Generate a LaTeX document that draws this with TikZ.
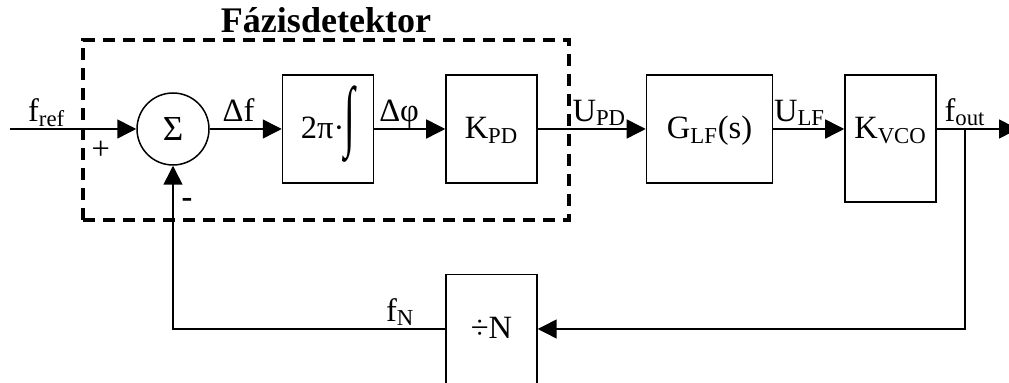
\documentclass[tikz,border=0pt]{standalone}
\usepackage{fontspec}
\setmainfont{Liberation Serif}
\usepackage{graphicx}
\usetikzlibrary{arrows.meta, positioning, calc, fit}
\newcommand{\blkfont}{\fontsize{18.5}{22}\selectfont}
\tikzset{
  % Signal block
  blk/.style={
    rectangle, draw=black, line width=0.85pt,
    minimum width=1.82cm, minimum height=2.16cm,
    inner sep=0pt, align=center, font=\blkfont,
    text height=0.6cm, text depth=0.2cm
  },
  % Summing junction
  sumcirc/.style={
    circle, draw=black, line width=0.85pt,
    minimum size=1.44cm, inner sep=0pt, font=\fontsize{20}{22}\selectfont
  },
  % Dashed group frame
  grp/.style={
    draw=black, line width=2.2pt, inner sep=0pt,
    dash pattern=on 0.24cm off 0.16cm
  },
  % Arrows
  arr/.style={-{Triangle[length=0.38cm,width=0.38cm]}, line width=0.85pt},
  wire/.style={line width=0.85pt},
  % Signal label
  sig/.style={font=\blkfont, inner sep=1.5pt, text depth=0.09cm},
}

\begin{document}
\begin{tikzpicture}
  \useasboundingbox (0,0) rectangle (20.18,-7.66);

  %% ---- FORWARD PATH ----
  \node[sumcirc] (sum) at (3.46,-2.58) {Σ};
  \node[blk, right=1.44cm of sum] (integ) {2π·\raisebox{-0.05cm}{\scalebox{1.2}[2.4]{∫}}};
  \node[blk, right=1.42cm of integ] (kpd) {K\textsubscript{PD}};
  \node[blk, minimum width=2.52cm, right=2.16cm of kpd] (lf) {G\textsubscript{LF}(s)};
  \node[blk, minimum height=2.54cm, text depth=0.6cm,
        right=1.42cm of lf.north east, anchor=north west] (vco) {K\textsubscript{VCO}};

  %% ---- FEEDBACK ----
  \node[blk, minimum height=2.18cm, below=1.8cm of kpd] (div) {÷N};

  \coordinate (in)  at (0.2,-2.58);
  \coordinate (br)  at (19.30,-2.58);
  \coordinate (out) at (20.36,-2.58);

  %% Arrows
  \draw[arr] (in) -- node[sig, above, pos=0.29]{f\textsubscript{ref}}
                     node[sig, below, pos=0.72, yshift=-5pt]{+} (sum);
  \draw[arr] (sum) -- node[sig, above, pos=0.4]{Δf} (integ);
  \draw[arr] (integ) -- node[sig, above, pos=0.35]{Δφ} (kpd);
  \draw[arr] (kpd) -- node[sig, above, pos=0.57]{U\textsubscript{PD}} (lf);
  \draw[arr] (lf) -- node[sig, above, pos=0.37]{U\textsubscript{LF}} (lf -| vco.west);
  \draw[wire] (vco.east |- br) -- (br) node[sig, above]{f\textsubscript{out}};
  \draw[arr] (br) -- (out);
  \draw[arr] (br) |- (div.east);
  \draw[arr] (div.west) -| node[sig, above left, pos=0.07, xshift=6pt]{f\textsubscript{N}}
                           node[sig, right, pos=0.88, xshift=3pt]{\textbf{-}} (sum.south);

  %% Phase detector frame
  \node[grp, fit={(1.66,-0.80) (11.38,-4.40)},
        label={[font=\fontsize{20.5}{23}\selectfont\bfseries, inner sep=3pt]above:Fázisdetektor}] (pd) {};

\end{tikzpicture}
\end{document}
